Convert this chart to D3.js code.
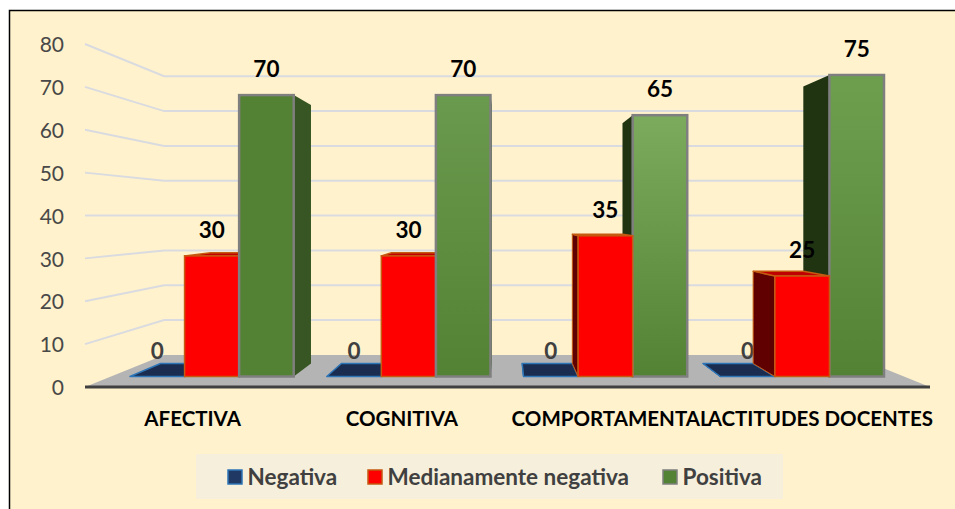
<!DOCTYPE html>
<html>
<head>
<meta charset="utf-8">
<script src="https://cdnjs.cloudflare.com/ajax/libs/d3/7.8.5/d3.min.js"></script>
<style>
    html, body { margin: 0; padding: 0; background: #fff; overflow: hidden; }
    svg { display: block; font-family: Lato, "Open Sans", sans-serif; }
</style>
</head>
<body>
<div id="chart"></div>
<script>
// values
var categories = ["AFECTIVA", "COGNITIVA", "COMPORTAMENTAL", "ACTITUDES DOCENTES"];
var seriesNames = ["Negativa", "Medianamente negativa", "Positiva"];
var negativa = [0, 0, 0, 0];
var medianamente = [30, 30, 35, 25];
var positiva = [70, 70, 65, 75];
var yTicks = [0, 10, 20, 30, 40, 50, 60, 70, 80];

var seriesValues = [negativa, medianamente, positiva];
var seriesStyle = [
    { front: "#1a2c50", side: "#1a2c50", top: "#1a2c50", stroke: "#2e75b6", swatch: "#1f3864" },
    { front: "#ff0000", side: "#600000", top: "#c00000", stroke: "#c55a11", swatch: "#ff0000" },
    { front: "#548235", side: "#375623", top: "#6a9a4d", stroke: "#7f7f7f", swatch: "#548235" }
];
// the positive bars get lighter towards the right of the chart
var greenTops = ["#548235", "#6a9a4d", "#7dab5e", "#6e9f4f"];
var greenSides = ["#375623", "#375623", "#203412", "#203412"];

var width = 955, height = 509;

var svg = d3.select("#chart").append("svg")
    .attr("width", width)
    .attr("height", height);

var defs = svg.append("defs");
greenTops.forEach(function (aColor, i) {
    var vGrad = defs.append("linearGradient")
        .attr("id", "green" + i)
        .attr("x1", 0).attr("y1", 0).attr("x2", 0).attr("y2", 1);
    vGrad.append("stop").attr("offset", "0%").attr("stop-color", aColor);
    vGrad.append("stop").attr("offset", "100%").attr("stop-color", "#548235");
});

// chart box, its right and bottom edges are cut off by the picture
svg.append("rect")
    .attr("x", 9.5).attr("y", 10.5)
    .attr("width", 960).attr("height", 520)
    .attr("fill", "#fff2cc")
    .attr("stroke", "#000")
    .attr("stroke-width", 1.5);

// scales: yFront is the front of the floor, yBar the front of the bars
var yFront = d3.scaleLinear().domain([0, 80]).range([387, 44]);
var yBar = d3.scaleLinear().domain([0, 80]).range([376.5, 54.9]);
var xOuter = d3.scaleBand().domain(categories).range([130, 884]).paddingInner(0.168);
var xInner = d3.scaleBand().domain(seriesNames).range([0, xOuter.bandwidth()]);
var xLabels = d3.scaleBand().domain(categories).range([88, 925]);

// perspective: everything shrinks towards this point with depth
var vanish = { x: 507, y: 216 };
var wallDepth = 0.8125, barDepth = 0.919;
function project(aX, aY, aK) {
    return [vanish.x + (aX - vanish.x) * aK, vanish.y + (aY - vanish.y) * aK];
}
function polygon(aPoints, aFill, aStroke, aWidth) {
    return svg.append("polygon")
        .attr("points", aPoints.join(" "))
        .attr("fill", aFill)
        .attr("stroke", aStroke || "none")
        .attr("stroke-width", aWidth || 0)
        .attr("stroke-linejoin", "round");
}

// back wall grid lines
yTicks.slice(1).forEach(function (aTick) {
    var vY = yFront(aTick);
    var vPts = [[85, vY], project(85, vY, wallDepth), project(930, vY, wallDepth)];
    svg.append("polyline")
        .attr("points", vPts.join(" "))
        .attr("fill", "none")
        .attr("stroke", "#d9dbe0")
        .attr("stroke-width", 2);
});

// floor
polygon([[85, 387], project(85, 387, wallDepth), project(930, 387, wallDepth), [930, 387]], "#b4b4b4");

// y axis labels
var yAxis = svg.append("g")
    .attr("transform", "translate(85,1)")
    .call(d3.axisLeft(yFront).tickValues(yTicks).tickSize(0).tickPadding(21));
yAxis.select(".domain").remove();
yAxis.selectAll("text")
    .attr("font-family", "Lato, sans-serif")
    .attr("font-size", 21)
    .attr("fill", "#484848");

// front edge of the floor
svg.append("line")
    .attr("x1", 85).attr("x2", 930)
    .attr("y1", 387).attr("y2", 387)
    .attr("stroke", "#404040")
    .attr("stroke-width", 3);

function drawLabel(aValue, aX, aY, aColor) {
    svg.append("text")
        .attr("x", aX)
        .attr("y", aY)
        .attr("text-anchor", "middle")
        .attr("dy", "0.36em")
        .attr("font-size", 22.5)
        .attr("font-weight", 700)
        .attr("fill", aColor)
        .text(aValue);
}

function drawBar(aCat, aSeries) {
    var vCatIdx = categories.indexOf(aCat);
    var vValue = seriesValues[aSeries][vCatIdx];
    var vStyle = seriesStyle[aSeries];
    var vLeft = xOuter(aCat) + xInner(seriesNames[aSeries]);
    var vRight = vLeft + xInner.bandwidth();
    var vTop = yBar(vValue), vBottom = yBar(0);
    var vStrokeWidth = aSeries === 2 ? 2.5 : 1.5;
    var vSideFill = aSeries === 2 ? greenSides[vCatIdx] : vStyle.side;
    var vFrontFill = aSeries === 2 ? "url(#green" + vCatIdx + ")" : vStyle.front;

    // only the side facing the vanishing point shows
    if (vRight < vanish.x) {
        polygon([[vRight, vTop], project(vRight, vTop, barDepth), project(vRight, vBottom, barDepth), [vRight, vBottom]],
            vSideFill, vStyle.stroke, aSeries === 2 ? 0 : 1);
    } else if (vLeft > vanish.x) {
        polygon([[vLeft, vTop], project(vLeft, vTop, barDepth), project(vLeft, vBottom, barDepth), [vLeft, vBottom]],
            vSideFill, vStyle.stroke, aSeries === 2 ? 0 : 1);
    }
    // top face, seen from above only below the eye line
    if (vTop > vanish.y) {
        polygon([[vLeft, vTop], project(vLeft, vTop, barDepth), project(vRight, vTop, barDepth), [vRight, vTop]],
            vStyle.top, vStyle.stroke, 1.5);
    }
    if (vValue > 0) {
        svg.append("rect")
            .attr("x", vLeft)
            .attr("y", vTop)
            .attr("width", vRight - vLeft)
            .attr("height", vBottom - vTop)
            .attr("fill", vFrontFill)
            .attr("stroke", vStyle.stroke)
            .attr("stroke-width", vStrokeWidth);
    }
    drawLabel(vValue, (vLeft + vRight) / 2, vTop - 26, vValue === 0 ? "#404040" : "#000");
}

// painter's order: on the right half the red side has to cover blue and green
categories.forEach(function (aCat, i) {
    var vOrder = i < 2 ? [0, 1, 2] : [2, 0, 1];
    vOrder.forEach(function (aSeries) { drawBar(aCat, aSeries); });
});

// category labels
var xAxis = svg.append("g")
    .attr("transform", "translate(0,419)")
    .call(d3.axisBottom(xLabels).tickSize(0).tickPadding(0));
xAxis.select(".domain").remove();
xAxis.selectAll("text")
    .attr("font-family", "Lato, sans-serif")
    .attr("font-size", 20.5)
    .attr("font-weight", 700)
    .attr("fill", "#000")
    .attr("dy", "0.36em");

// legend
svg.append("rect")
    .attr("x", 196).attr("y", 454)
    .attr("width", 587).attr("height", 45)
    .attr("fill", "#f6efdb");
var legendX = [228, 368, 663];
seriesNames.forEach(function (aName, i) {
    svg.append("rect")
        .attr("x", legendX[i]).attr("y", 470)
        .attr("width", 14).attr("height", 14)
        .attr("fill", seriesStyle[i].swatch)
        .attr("stroke", seriesStyle[i].stroke)
        .attr("stroke-width", 1.5);
    svg.append("text")
        .attr("x", legendX[i] + 19.5)
        .attr("y", 477)
        .attr("dy", "0.36em")
        .attr("font-size", 22.5)
        .attr("font-weight", 700)
        .attr("fill", "#404040")
        .text(aName);
});
</script>
</body>
</html>
